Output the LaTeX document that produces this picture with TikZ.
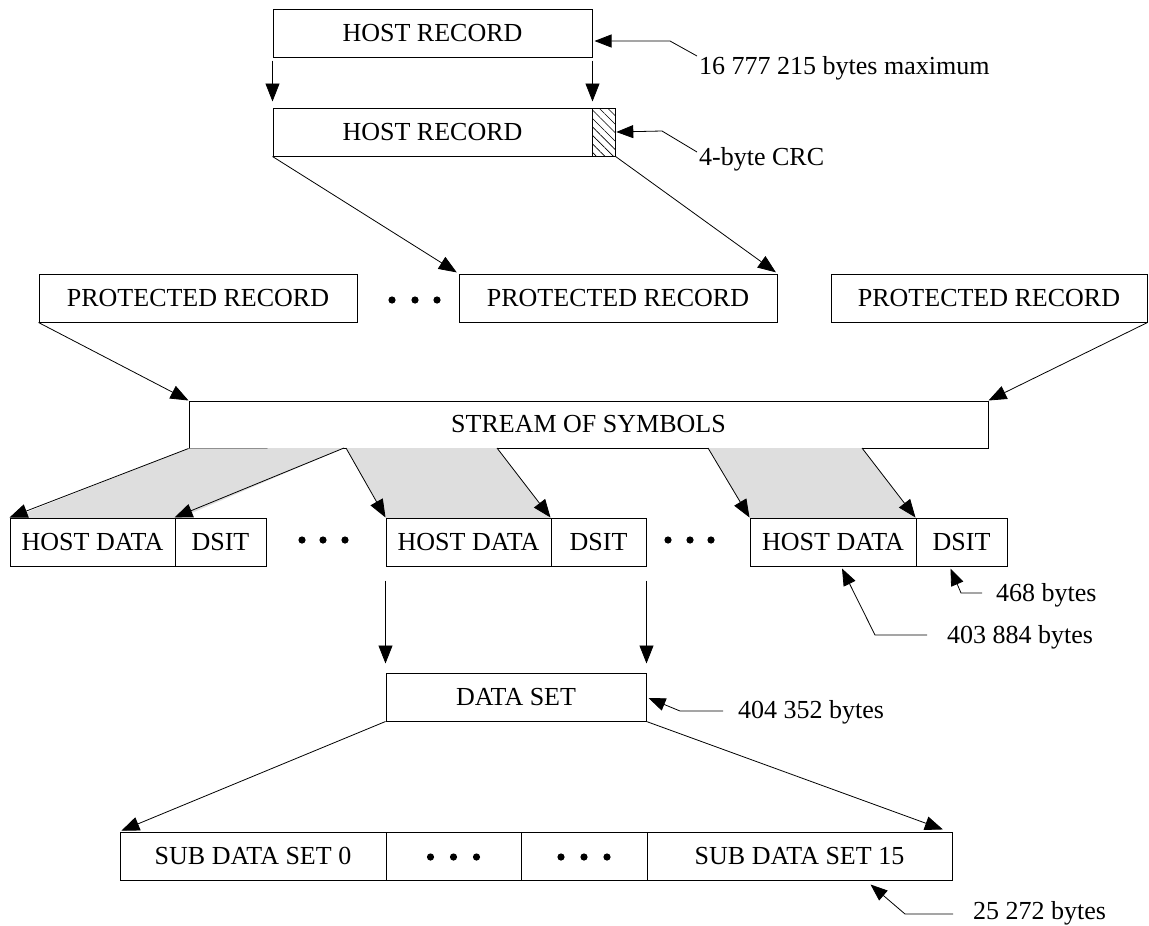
\documentclass[tikz,border=0pt]{standalone}
\usepackage{fontspec}
\setmainfont{Liberation Serif}
\usetikzlibrary{arrows.meta,patterns.meta,calc}
\definecolor{shadegray}{RGB}{222,222,222}
\newcommand\diagfont{\fontsize{26}{30}\selectfont}
\begin{document}
\begin{tikzpicture}[x=1pt,y=-1pt,
  box/.style={draw,line width=1pt,inner sep=0pt,minimum height=48pt,font=\diagfont},
  lab/.style={anchor=base west,inner sep=0pt,font=\diagfont},
  arr/.style={line width=0.8pt,-{Triangle[length=18pt,width=14pt]}},
  lead/.style={line width=0.8pt,-{Triangle[length=17pt,width=13pt]}},
  dotmark/.style={fill=black}]
\useasboundingbox (0,0) rectangle (1149,926);

% ---------- start points on the stream box ----------
\coordinate (s1) at (344,448);
\coordinate (s2) at (346,448);
\coordinate (s3) at (497,448);
\coordinate (s4) at (708,448);
\coordinate (s5) at (862,448);

% ---------- boxes ----------
\node[box,minimum width=319pt] (hr1) at (432.5,33) {HOST RECORD};
\node[box,minimum width=319pt] (hr2) at (432.5,132) {HOST RECORD};
\node[box,minimum width=23pt,pattern={Lines[angle=-45,distance=6pt,line width=0.6pt]}] (crc) at (603.5,132) {};

\node[box,minimum width=318pt] (pr1) at (198,298) {PROTECTED RECORD};
\node[box,minimum width=318pt] (pr2) at (618,298) {PROTECTED RECORD};
\node[box,minimum width=316pt] (pr3) at (989,298) {PROTECTED RECORD};

\node[box,minimum width=799pt,minimum height=47pt] (stream) at (588.5,424.5) {STREAM OF SYMBOLS};

\fill[shadegray] (stream.south west) -- (s1) -- (180,518) -- (12,518) -- cycle;
\fill[shadegray] (s2) -- (s3) -- (551,518) -- (386,518) -- cycle;
\fill[shadegray] (s4) -- (s5) -- (916,518) -- (750,518) -- cycle;

\node[box,minimum width=165pt] (hdA) at (92.5,542) {HOST DATA};
\node[box,minimum width=91pt] (dsA) at (220.5,542) {DSIT};
\node[box,minimum width=165pt] (hdB) at (468.5,542) {HOST DATA};
\node[box,minimum width=95pt] (dsB) at (598.5,542) {DSIT};
\node[box,minimum width=166pt] (hdC) at (833,542) {HOST DATA};
\node[box,minimum width=91pt] (dsC) at (961.5,542) {DSIT};

\node[box,minimum width=260pt] (dataset) at (516,697) {DATA SET};

\node[box,minimum width=266pt] (sd0) at (253,856) {SUB DATA SET 0};
\node[box,minimum width=135pt] (sdd1) at (453.5,856) {};
\node[box,minimum width=126pt] (sdd2) at (584,856) {};
\node[box,minimum width=305pt] (sd15) at (799.5,856) {SUB DATA SET 15};

% ---------- dots ----------
\foreach \x in {392,415,437} \fill[dotmark] (\x,300) circle (3.6pt);
\foreach \x in {302,323,345} \fill[dotmark] (\x,540) circle (3.6pt);
\foreach \x in {668,690,711} \fill[dotmark] (\x,540) circle (3.6pt);
\foreach \x in {-23,0,23} {
  \fill[dotmark] ($(sdd1.center)+(\x,1)$) circle (3.6pt);
  \fill[dotmark] ($(sdd2.center)+(\x,1)$) circle (3.6pt);
}

% ---------- connectors ----------
\draw[arr,shorten >=6pt] ([yshift=-3pt]hr1.south west) -- (hr2.north west);
\draw[arr,shorten >=6pt] ([yshift=-3pt]hr1.south east) -- (hr2.north east);
\draw[arr,shorten >=2pt] (hr2.south west) -- (pr2.north west);
\draw[arr,shorten >=2pt] (crc.south east) -- (pr2.north east);
\draw[arr] (pr1.south west) -- (stream.north west);
\draw[arr] (pr3.south east) -- (stream.north east);

\draw[arr] (stream.south west) -- (hdA.north west);
\draw[arr] (s1) -- (dsA.north west);
\draw[arr] (s2) -- (hdB.north west);
\draw[arr] (s3) -- (dsB.north west);
\draw[arr] (s4) -- (hdC.north west);
\draw[arr] (s5) -- (dsC.north west);

\draw[arr,shorten >=9pt] ([yshift=-14pt]hdB.south west) -- (dataset.north west);
\draw[arr,shorten >=9pt] ([yshift=-14pt]dsB.south east) -- (dataset.north east);

\draw[arr,shorten >=2pt] (dataset.south west) -- (sd0.north west);
\draw[arr,shorten >=6pt] (dataset.south east) -- ($(sd15.north east)+(-4,0)$);

% ---------- labels with leaders ----------
\node[lab] (t1) at (699,74) {16 777 215 bytes maximum};
\draw[lead] (697,56) -- (670,41) -- ([yshift=-8pt,xshift=2pt]hr1.east);

\node[lab] (t2) at (699,165) {4-byte CRC};
\draw[lead] (697,152) -- (662,131) -- ([xshift=1pt]crc.east);

\node[lab] (t3) at (996,601) {468 bytes};
\draw[lead] (982,593) -- (961,593) -- ($(dsC.south)+(-11,2)$);

\node[lab] (t4) at (947,643) {403 884 bytes};
\draw[lead] (927,635) -- (875,635) -- ($(hdC.south)+(9,2)$);

\node[lab] (t5) at (738,718) {404 352 bytes};
\draw[lead] (723,711) -- (680,711) -- ($(dataset.east)+(2,1)$);

\node[lab] (t6) at (973,919) {25 272 bytes};
\draw[lead] (953,914) -- (905,914) -- ($(sd15.south)+(71,4)$);
\end{tikzpicture}
\end{document}
